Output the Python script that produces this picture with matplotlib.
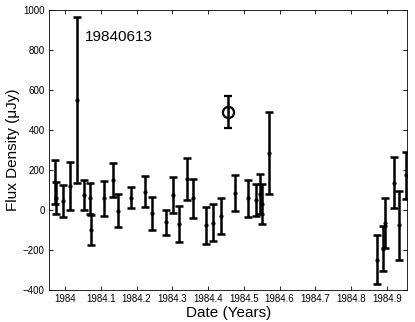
import matplotlib
matplotlib.use("Agg")
import matplotlib.pyplot as plt
import numpy as np

plt.rcParams['font.family'] = ['Liberation Sans', 'DejaVu Sans']

# observation dates (decimal years), flux and 1-sigma errors in uJy
date = [1983.972, 1983.976, 1983.995, 1984.014, 1984.034, 1984.053, 1984.070,
        1984.072, 1984.110, 1984.133, 1984.147, 1984.185, 1984.224, 1984.244,
        1984.282, 1984.301, 1984.319, 1984.340, 1984.359, 1984.393, 1984.414,
        1984.436, 1984.475, 1984.511, 1984.533, 1984.546, 1984.551, 1984.571,
        1984.873, 1984.890, 1984.895, 1984.920, 1984.935, 1984.953]
flux = [140, 60, 45, 120, 550, 75, 58, -100, 58, 150, -3, 62, 92, -17, -62,
        75, -70, 155, 58, -77, -63, -28, 87, 58, 50, 80, 30, 287,
        -247, -192, -63, 137, -77, 173]
err = [110, 80, 82, 122, 415, 77, 77, 77, 86, 85, 84, 54, 78, 83, 63, 88,
       88, 104, 97, 92, 92, 90, 90, 94, 81, 98, 102, 205,
       124, 114, 125, 126, 172, 118]

# the flagged epoch
flag_date = [1984.456]
flag_flux = [492]
flag_err = [80]
flag_label = "19840613"

fig = plt.figure(figsize=(4.15, 3.22), dpi=100)
ax = fig.add_axes([0.118, 0.099, 0.8635, 0.870])

ax.errorbar(date, flux, yerr=err, fmt='.', color='black', ms=4,
            elinewidth=1.8, capsize=3, capthick=1.8)
ax.errorbar(flag_date, flag_flux, yerr=flag_err, fmt='o', color='black',
            mfc='none', ms=8, mew=1.6, elinewidth=1.8, capsize=3, capthick=1.8)
ax.text(1984.056, 865, flag_label, fontsize=11, va='center', ha='left')

ax.set_xlim(1983.955, 1984.957)
ax.set_ylim(-400, 1000)
ax.set_xticks(np.round(np.arange(1984.0, 1984.95, 0.1), 1))
ax.set_xticklabels(['1984', '1984.1', '1984.2', '1984.3', '1984.4', '1984.5',
                    '1984.6', '1984.7', '1984.8', '1984.9'])
ax.set_yticks(range(-400, 1001, 200))
ax.tick_params(direction='in', top=True, right=True, labelsize=7, length=3,
               width=0.6, pad=3)
for s in ax.spines.values():
    s.set_linewidth(0.6)

ax.set_xlabel("Date (Years)", fontsize=11, labelpad=1)
ax.set_ylabel("Flux Density (\u03bcJy)", fontsize=11, labelpad=2)

fig.savefig("out.png", dpi=100)
